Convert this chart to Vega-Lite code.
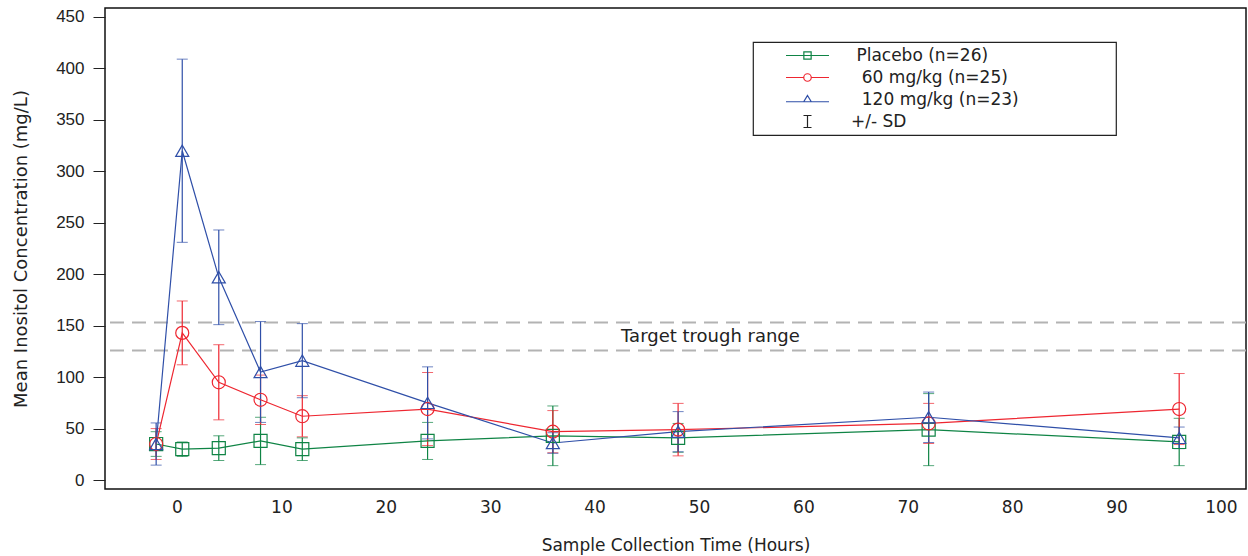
{
  "$schema": "https://vega.github.io/schema/vega-lite/v6.json",
  "width": 1141,
  "height": 481,
  "autosize": "none",
  "padding": {"left": 105, "top": 8, "right": 2, "bottom": 67},
  "background": "white",
  "config": {
    "view": {"stroke": "#111", "strokeWidth": 1.5},
    "font": "DejaVu Sans",
    "legend": {"strokeWidth": 1.2},
    "axis": {"grid": false, "domain": false, "labelColor": "#222", "titleColor": "#222", "titleFontWeight": "normal", "tickColor": "#222"}
  },
  "datasets": {
    "conc": [
      {"t": -2, "series": "Placebo (n=26)", "mean": 35, "sd": 12},
      {"t": 0.5, "series": "Placebo (n=26)", "mean": 30, "sd": 7},
      {"t": 4, "series": "Placebo (n=26)", "mean": 31, "sd": 12},
      {"t": 8, "series": "Placebo (n=26)", "mean": 38, "sd": 23},
      {"t": 12, "series": "Placebo (n=26)", "mean": 30, "sd": 11},
      {"t": 24, "series": "Placebo (n=26)", "mean": 38, "sd": 18},
      {"t": 36, "series": "Placebo (n=26)", "mean": 43, "sd": 29},
      {"t": 48, "series": "Placebo (n=26)", "mean": 41, "sd": 14},
      {"t": 72, "series": "Placebo (n=26)", "mean": 49, "sd": 35},
      {"t": 96, "series": "Placebo (n=26)", "mean": 37, "sd": 23},
      {"t": -2, "series": "60 mg/kg (n=25)", "mean": 35, "sd": 15},
      {"t": 0.5, "series": "60 mg/kg (n=25)", "mean": 143, "sd": 31},
      {"t": 4, "series": "60 mg/kg (n=25)", "mean": 95, "sd": 36.5},
      {"t": 8, "series": "60 mg/kg (n=25)", "mean": 78, "sd": 24},
      {"t": 12, "series": "60 mg/kg (n=25)", "mean": 62, "sd": 20},
      {"t": 24, "series": "60 mg/kg (n=25)", "mean": 69, "sd": 35.5},
      {"t": 36, "series": "60 mg/kg (n=25)", "mean": 47, "sd": 20.5},
      {"t": 48, "series": "60 mg/kg (n=25)", "mean": 49, "sd": 25.5},
      {"t": 72, "series": "60 mg/kg (n=25)", "mean": 55, "sd": 19.5},
      {"t": 96, "series": "60 mg/kg (n=25)", "mean": 69, "sd": 34.5},
      {"t": -2, "series": "120 mg/kg (n=23)", "mean": 35, "sd": 20.5},
      {"t": 0.5, "series": "120 mg/kg (n=23)", "mean": 320, "sd": 89},
      {"t": 4, "series": "120 mg/kg (n=23)", "mean": 197, "sd": 46},
      {"t": 8, "series": "120 mg/kg (n=23)", "mean": 105, "sd": 49},
      {"t": 12, "series": "120 mg/kg (n=23)", "mean": 116, "sd": 36},
      {"t": 24, "series": "120 mg/kg (n=23)", "mean": 75, "sd": 35},
      {"t": 36, "series": "120 mg/kg (n=23)", "mean": 36, "sd": 10},
      {"t": 48, "series": "120 mg/kg (n=23)", "mean": 47, "sd": 19.5},
      {"t": 72, "series": "120 mg/kg (n=23)", "mean": 61, "sd": 24.5},
      {"t": 96, "series": "120 mg/kg (n=23)", "mean": 41, "sd": 10.5}
    ],
    "ref": [{"y": 126}, {"y": 153}],
    "note": [{"t": 51.1, "y": 139, "label": "Target trough range"}]
  },
  "layer": [
    {
      "data": {"name": "ref"},
      "mark": {"type": "rule", "color": "#b3b3b3", "strokeWidth": 2, "strokeDash": [14, 8]},
      "encoding": {
        "y": {"field": "y", "type": "quantitative", "scale": {"domain": [-8.7, 458.7], "nice": false, "zero": false}, "title": "Mean Inositol Concentration (mg/L)",
          "axis": {"values": [0, 50, 100, 150, 200, 250, 300, 350, 400, 450], "tickSize": 12, "labelPadding": 9, "labelFont": "Liberation Sans", "labelFontSize": 17, "titleFont": "DejaVu Sans", "titleFontSize": 18, "titlePadding": 25}}
      }
    },
    {
      "data": {"name": "note"},
      "mark": {"type": "text", "fontSize": 18, "color": "#222", "font": "DejaVu Sans", "baseline": "middle", "align": "center"},
      "encoding": {
        "x": {"field": "t", "type": "quantitative", "scale": {"domain": [-6.9, 102.4], "nice": false, "zero": false}, "title": "Sample Collection Time (Hours)",
          "axis": {"values": [0, 10, 20, 30, 40, 50, 60, 70, 80, 90, 100], "ticks": false, "labelPadding": 10, "labelFont": "DejaVu Sans", "labelFontSize": 17, "titleFont": "DejaVu Sans", "titleFontSize": 17, "titlePadding": 22}},
        "y": {"field": "y", "type": "quantitative", "scale": {"domain": [-8.7, 458.7], "nice": false, "zero": false}, "title": "Mean Inositol Concentration (mg/L)"},
        "text": {"field": "label"}
      }
    },
    {
      "data": {"name": "conc"},
      "mark": {"type": "errorbar", "ticks": {"size": 11}, "rule": {"strokeWidth": 1.2}},
      "encoding": {
        "x": {"field": "t", "type": "quantitative", "scale": {"domain": [-6.9, 102.4], "nice": false, "zero": false}, "title": "Sample Collection Time (Hours)"},
        "y": {"field": "mean", "type": "quantitative", "scale": {"domain": [-8.7, 458.7], "nice": false, "zero": false}, "title": "Mean Inositol Concentration (mg/L)"},
        "yError": {"field": "sd"},
        "color": {"field": "series", "type": "nominal", "scale": {"domain": ["Placebo (n=26)", "60 mg/kg (n=25)", "120 mg/kg (n=23)", "+/- SD"], "range": ["#0f8445", "#ee2630", "#2f4fa8", "#222222"]}, "legend": null}
      }
    },
    {
      "data": {"name": "conc"},
      "mark": {"type": "line", "strokeWidth": 1.2},
      "encoding": {
        "x": {"field": "t", "type": "quantitative", "scale": {"domain": [-6.9, 102.4], "nice": false, "zero": false}, "title": "Sample Collection Time (Hours)"},
        "y": {"field": "mean", "type": "quantitative", "scale": {"domain": [-8.7, 458.7], "nice": false, "zero": false}, "title": "Mean Inositol Concentration (mg/L)"},
        "color": {"field": "series", "type": "nominal", "scale": {"domain": ["Placebo (n=26)", "60 mg/kg (n=25)", "120 mg/kg (n=23)", "+/- SD"], "range": ["#0f8445", "#ee2630", "#2f4fa8", "#222222"]}, "legend": null}
      }
    },
    {
      "data": {"name": "conc"},
      "mark": {"type": "point", "filled": false, "strokeWidth": 1.2, "size": 170, "opacity": 1},
      "encoding": {
        "x": {"field": "t", "type": "quantitative", "scale": {"domain": [-6.9, 102.4], "nice": false, "zero": false}, "title": "Sample Collection Time (Hours)"},
        "y": {"field": "mean", "type": "quantitative", "scale": {"domain": [-8.7, 458.7], "nice": false, "zero": false}, "title": "Mean Inositol Concentration (mg/L)"},
        "color": {"field": "series", "type": "nominal", "scale": {"domain": ["Placebo (n=26)", "60 mg/kg (n=25)", "120 mg/kg (n=23)", "+/- SD"], "range": ["#0f8445", "#ee2630", "#2f4fa8", "#222222"]}, "legend": null},
        "shape": {"field": "series", "type": "nominal", "scale": {"domain": ["Placebo (n=26)", "60 mg/kg (n=25)", "120 mg/kg (n=23)"], "range": ["square", "circle", "triangle-up"]}, "legend": null}
      }
    },
    {
      "data": {"name": "conc"},
      "transform": [{"filter": "datum.t < -1000"}],
      "mark": {"type": "point", "filled": false, "strokeWidth": 1.2, "size": 100, "opacity": 1},
      "encoding": {
        "x": {"field": "t", "type": "quantitative", "scale": {"domain": [-6.9, 102.4], "nice": false, "zero": false}, "title": "Sample Collection Time (Hours)"},
        "y": {"field": "mean", "type": "quantitative", "scale": {"domain": [-8.7, 458.7], "nice": false, "zero": false}, "title": "Mean Inositol Concentration (mg/L)"},
        "color": {"field": "series", "type": "nominal", "scale": {"domain": ["Placebo (n=26)", "60 mg/kg (n=25)", "120 mg/kg (n=23)", "+/- SD"], "range": ["#0f8445", "#ee2630", "#2f4fa8", "#222222"]},
          "legend": {"orient": "none", "legendX": 648, "legendY": 34, "title": null, "strokeColor": "#222", "padding": 5, "symbolSize": 100, "symbolStrokeWidth": 1.2, "symbolOffset": 41, "labelOffset": 35, "labelLimit": 500, "labelFont": "DejaVu Sans", "labelFontSize": 17, "labelColor": "#222", "rowPadding": 4, "symbolFillColor": "transparent",
            "labelExpr": "(datum.label == '+/- SD' ? '' : datum.label == 'Placebo (n=26)' ? '\u200b\u00a0' : '\u200b\u00a0\u00a0') + datum.label + '\u00a0\u00a0\u00a0\u00a0\u00a0\u00a0\u00a0\u00a0\u00a0\u00a0\u00a0\u00a0\u00a0\u00a0\u00a0\u00a0\u00a0\u200b'"}},
        "shape": {"field": "series", "type": "nominal", "scale": {"domain": ["Placebo (n=26)", "60 mg/kg (n=25)", "120 mg/kg (n=23)", "+/- SD"], "range": ["M-4.3,0H4.3M-0.73,-0.73H0.73V0.73H-0.73Z", "M-4.3,0H-0.75M0.75,0H4.3M0.75,0A0.75,0.75 0 1,1 -0.75,0A0.75,0.75 0 1,1 0.75,0Z", "M-4.3,0.45H4.3M0,-0.8L0.75,0.45L-0.75,0.45Z", "M-0.8,-1.2H0.8M0,-1.2V1.2M-0.8,1.2H0.8"]},
          "legend": {"orient": "none", "legendX": 648, "legendY": 34, "title": null, "strokeColor": "#222", "padding": 5, "symbolSize": 100, "symbolStrokeWidth": 1.2, "symbolOffset": 41, "labelOffset": 35, "labelLimit": 500, "labelFont": "DejaVu Sans", "labelFontSize": 17, "labelColor": "#222", "rowPadding": 4, "symbolFillColor": "transparent",
            "labelExpr": "(datum.label == '+/- SD' ? '' : datum.label == 'Placebo (n=26)' ? '\u200b\u00a0' : '\u200b\u00a0\u00a0') + datum.label + '\u00a0\u00a0\u00a0\u00a0\u00a0\u00a0\u00a0\u00a0\u00a0\u00a0\u00a0\u00a0\u00a0\u00a0\u00a0\u00a0\u00a0\u200b'"}}
      }
    }
  ],
  "resolve": {"scale": {"shape": "independent", "color": "independent"}}
}
